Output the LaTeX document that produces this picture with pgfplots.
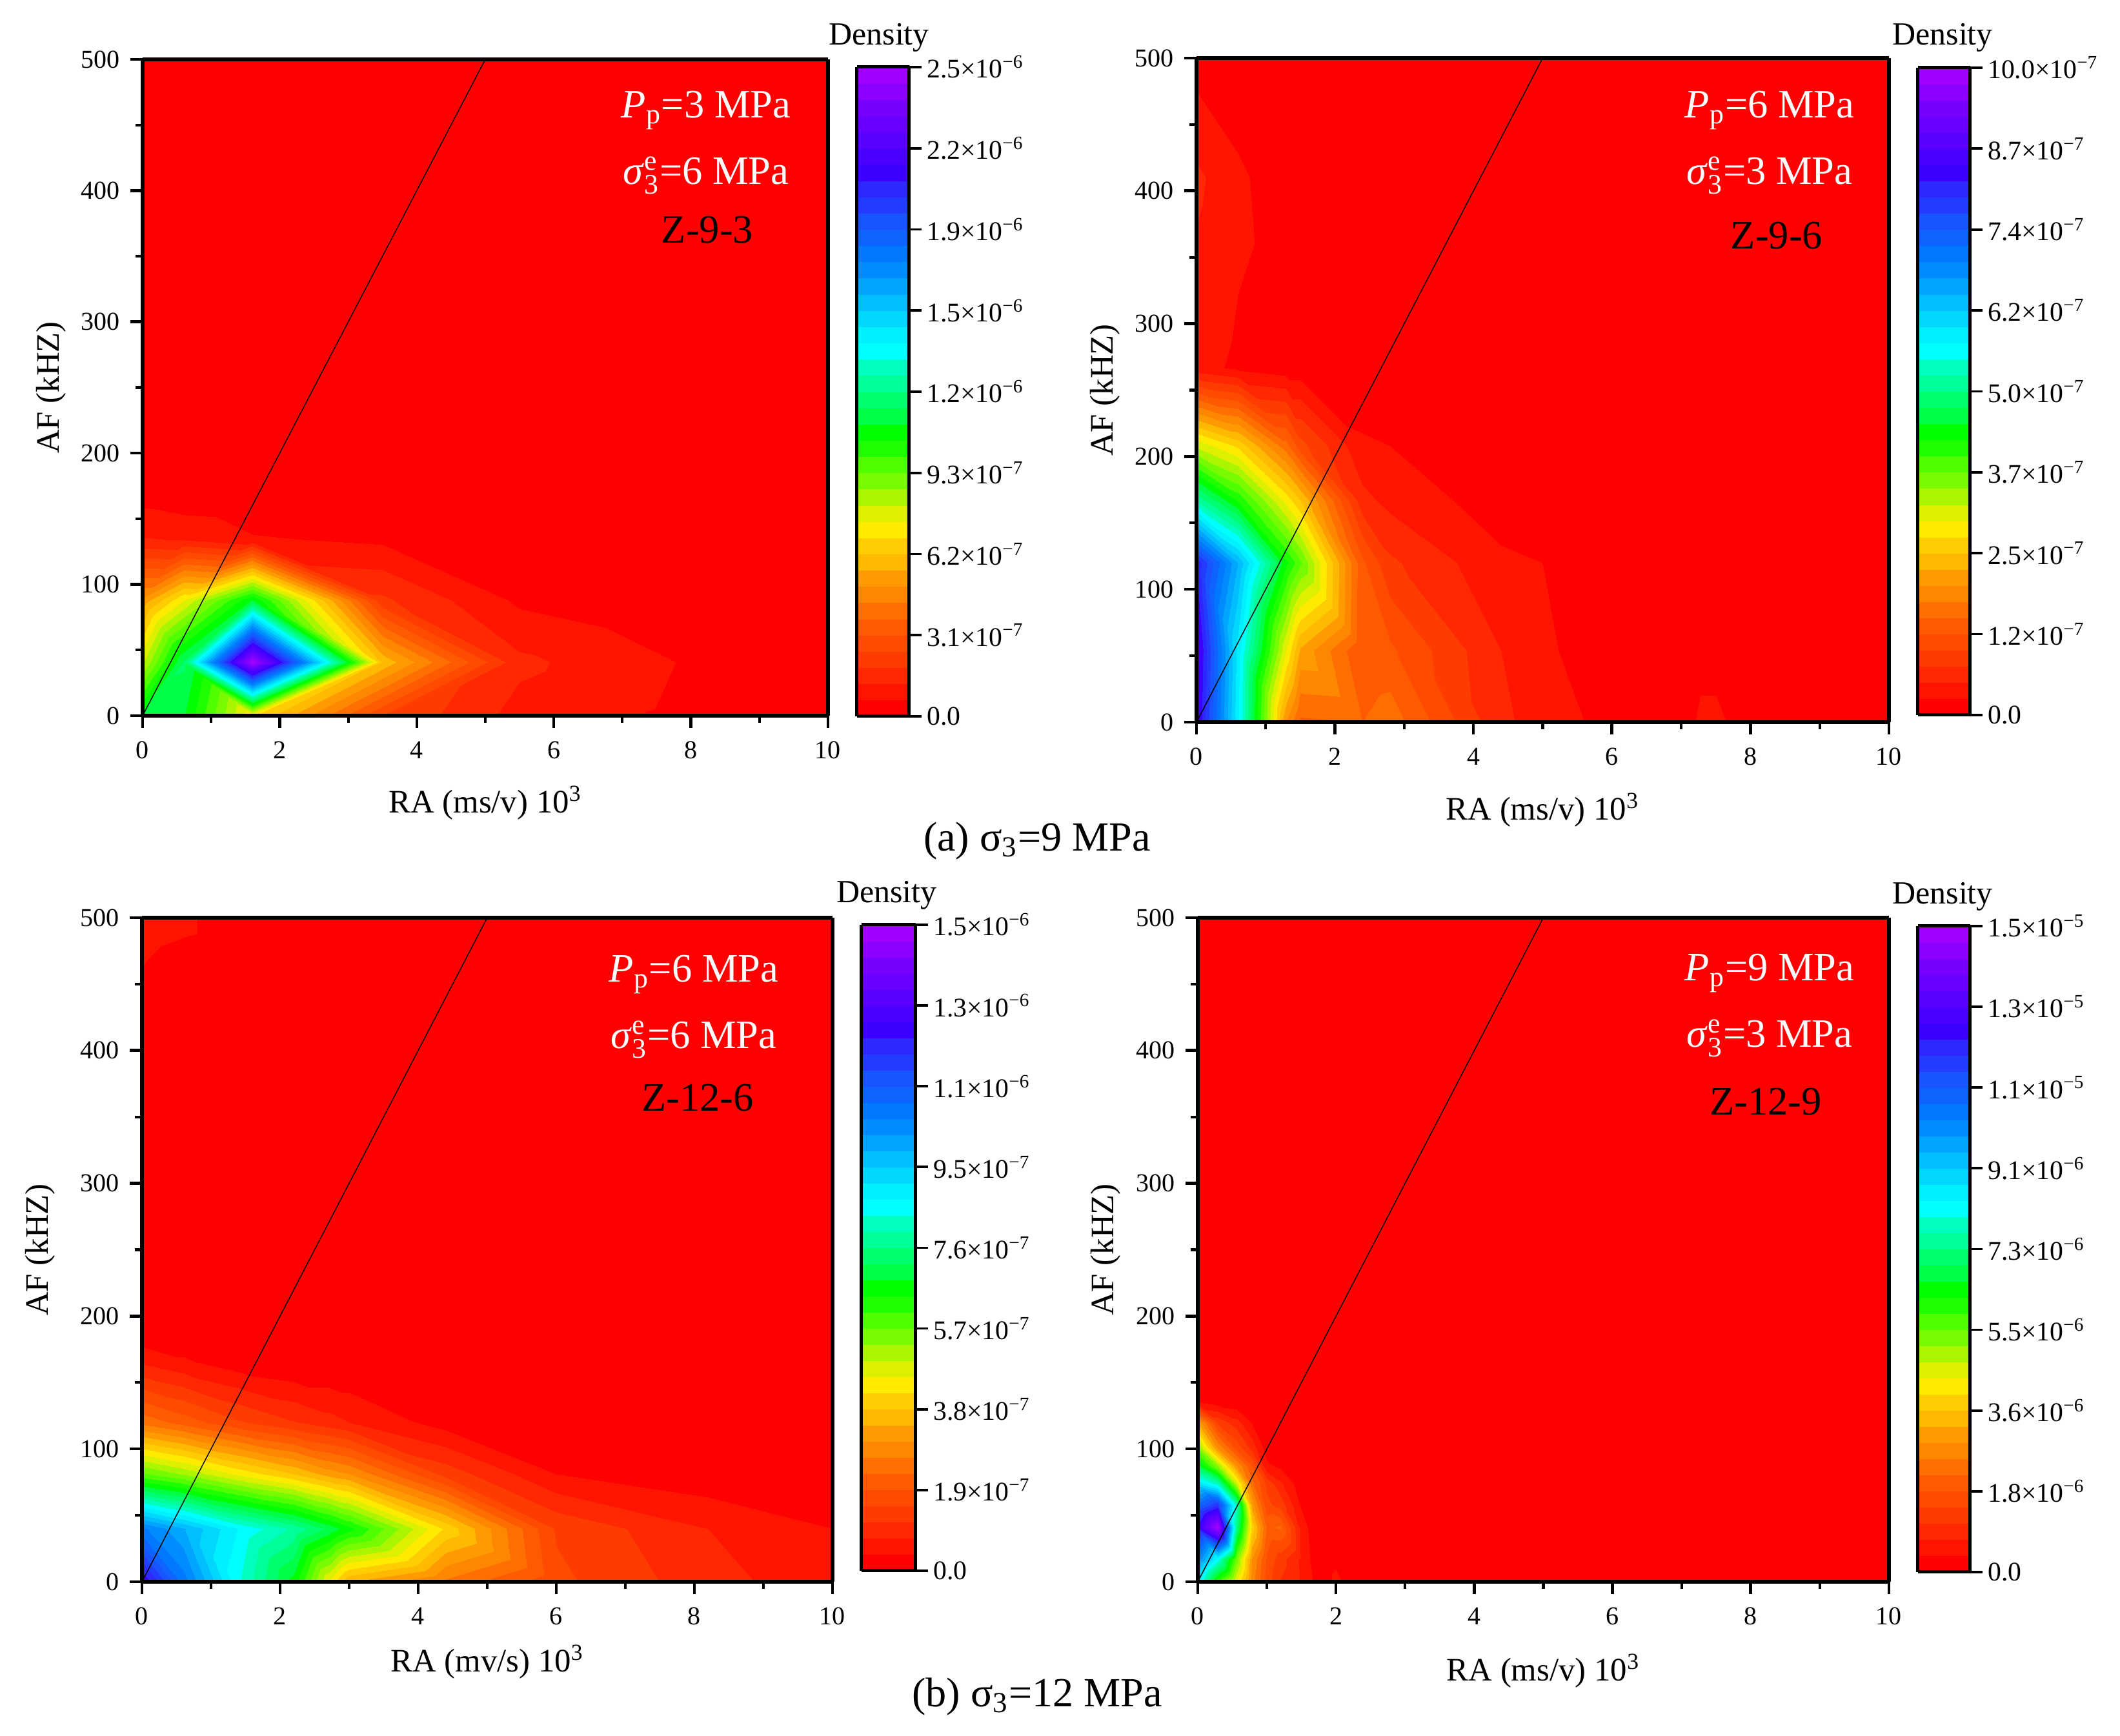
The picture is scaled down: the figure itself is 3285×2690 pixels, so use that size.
\documentclass[border=0pt]{standalone}
\usepackage{pgfplots}
\usepackage{fontspec}
\setmainfont{Liberation Serif}
\pgfplotsset{compat=1.18}
\pgfplotsset{
  colormap={orig}{rgb255=(255,0,0) rgb255=(255,20,0) rgb255=(255,40,0) rgb255=(255,60,0) rgb255=(255,75,0) rgb255=(255,90,0) rgb255=(255,110,0) rgb255=(255,135,0) rgb255=(255,155,0) rgb255=(255,185,0) rgb255=(255,205,0) rgb255=(255,235,0) rgb255=(220,240,0) rgb255=(170,245,0) rgb255=(120,250,0) rgb255=(80,255,0) rgb255=(30,255,0) rgb255=(0,255,0) rgb255=(0,255,70) rgb255=(0,255,110) rgb255=(0,255,150) rgb255=(0,255,190) rgb255=(0,255,255) rgb255=(0,240,255) rgb255=(0,215,255) rgb255=(0,190,255) rgb255=(0,165,255) rgb255=(0,140,255) rgb255=(0,120,255) rgb255=(15,100,255) rgb255=(25,85,255) rgb255=(35,60,255) rgb255=(45,40,255) rgb255=(60,0,255) rgb255=(75,0,255) rgb255=(90,0,255) rgb255=(105,0,255) rgb255=(120,0,255) rgb255=(140,0,255) rgb255=(160,0,255)},
  panel/.style={
    scale only axis, view={0}{90}, axis on top,
    xmin=0,xmax=10,ymin=0,ymax=500,
    xtick={0,2,4,6,8,10}, minor xtick={1,3,5,7,9},
    ytick={0,100,200,300,400,500}, minor ytick={50,150,250,350,450},
    tick align=outside, xtick pos=bottom, ytick pos=left,
    major tick length=4.6pt, minor tick length=2.6pt,
    every tick/.style={black,line width=1.1pt},
    minor tick style={black,line width=1.0pt},
    axis line style={black,line width=1.3pt},
    /pgf/number format/assume math mode=true,
    tick label style={font=\fontsize{9.6}{10}\selectfont},
    label style={font=\fontsize{12.2}{14}\selectfont},
    xticklabel style={yshift=-1.5pt},
    yticklabel style={xshift=-0.5pt},
    ylabel={AF (kHZ)},
    colormap name=orig,
    colorbar,
  },
  cb/.style n args={4}{colorbar style={
      at={(parent axis.south east)},anchor=south west,
      xshift=2.16pt,yshift=#1,width=#2,height=#3,
      ymin=0,ymax=#4,
      ytick pos=right,yticklabel pos=right,
      tick align=outside,xtick=\empty,
      major tick length=4.6pt,
      every tick/.style={black,line width=0.9pt},
      axis line style={black,line width=1.2pt},
      tick label style={font=\fontsize{10}{11}\selectfont,xshift=-1.5pt},
  }},
}
\newcommand{\sig}{\textit{σ}$^{\mathrm{e}}_{\mathrm{3}}$}
\newcommand{\Pp}{\textit{P}$_{\mathrm{p}}$}
\begin{document}
\begin{tikzpicture}[x=0.24pt,y=-0.24pt]
\path[use as bounding box] (0,0) rectangle (3285,2690);
% ---------- A
\begin{axis}[panel,anchor=south west,at={(53.04pt,-266.16pt)},width=254.88pt,height=244.08pt,
  xlabel={RA (ms/v) 10\textsuperscript{3}},
  xlabel style={at={(axis description cs:0.5,-0.133)},anchor=center},
  ylabel style={at={(axis description cs:-0.133,0.5)},anchor=center,rotate=0},
  point meta min=0,point meta max=25,
  cb={-0.24pt}{19.44pt}{241.44pt}{25},
  colorbar style={ytick={0,3.125,6.25,9.375,12.5,15.625,18.75,21.875,25},
    yticklabels={0.0,3.1×10\textsuperscript{−7},6.2×10\textsuperscript{−7},9.3×10\textsuperscript{−7},1.2×10\textsuperscript{−6},1.5×10\textsuperscript{−6},1.9×10\textsuperscript{−6},2.2×10\textsuperscript{−6},2.5×10\textsuperscript{−6}}},
]
\addplot3[contour filled={number=40},colorbar source,mesh/ordering=x varies,mesh/cols=2] table[row sep=\\]{
0 0 0\\ 10 0 0\\ 0 500 0\\ 10 500 0\\
};
\addplot3[contour filled={number=40},patch,patch type=triangle,point meta=z,table/row sep=\\,
patch table={
0 1 8\\ 0 7 8\\ 1 2 8\\ 2 8 9\\ 2 3 10\\ 2 9 10\\ 3 4 11\\ 3 10 11\\ 4 5 11\\ 5 11 12\\ 5 6 12\\ 6 12 13\\
7 8 14\\ 8 14 15\\ 8 9 16\\ 8 15 16\\ 9 10 16\\ 10 16 17\\ 10 11 17\\ 11 17 18\\ 11 12 19\\ 11 18 19\\ 12 13 20\\ 12 19 20\\
14 15 22\\ 14 21 22\\ 15 16 23\\ 15 22 23\\ 16 17 23\\ 17 23 24\\ 17 18 24\\ 18 24 25\\ 18 19 26\\ 18 25 26\\ 19 20 26\\ 20 26 27\\
21 22 28\\ 22 28 29\\ 22 23 30\\ 22 29 30\\ 23 24 30\\ 24 30 31\\ 24 25 32\\ 24 31 32\\ 25 26 32\\ 26 32 33\\ 26 27 34\\ 26 33 34\\
28 29 36\\ 28 35 36\\ 29 30 36\\ 30 36 37\\ 30 31 38\\ 30 37 38\\ 31 32 38\\ 32 38 39\\ 32 33 40\\ 32 39 40\\ 33 34 40\\ 34 40 41\\
}] table{
0 0 11.5\\ 0.6 0 11.3\\ 1.6 0 7\\ 3.5 0 2.5\\ 5.5 0 1\\ 7.8 0 0.5\\ 10 0 0\\
0 41 8\\ 0.6 41 12\\ 1.6 41 25\\ 3.5 41 6.1\\ 5.5 41 1.4\\ 7.8 41 0.62\\ 10 41 0\\
0 88 5.2\\ 0.6 88 7.5\\ 1.6 88 11.3\\ 3.5 88 2\\ 5.5 88 0.5\\ 7.8 88 0\\ 10 88 0\\
0 134 1.3\\ 0.6 134 1.2\\ 1.6 134 0.7\\ 3.5 134 0.5\\ 5.5 134 0\\ 7.8 134 0\\ 10 134 0\\
0 170 0.3\\ 0.6 170 0.1\\ 1.6 170 0\\ 3.5 170 0\\ 5.5 170 0\\ 7.8 170 0\\ 10 170 0\\
0 500 0\\ 0.6 500 0\\ 1.6 500 0\\ 3.5 500 0\\ 5.5 500 0\\ 7.8 500 0\\ 10 500 0\\
};
\addplot3[black,line width=0.35pt,no marks] coordinates {(0,0,0) (5,500,0)};
\end{axis}
% ---------- B
\begin{axis}[panel,anchor=south west,at={(444.96pt,-268.56pt)},width=257.52pt,height=246.96pt,
  xlabel={RA (ms/v) 10\textsuperscript{3}},
  xlabel style={at={(axis description cs:0.5,-0.132)},anchor=center},
  ylabel style={at={(axis description cs:-0.132,0.5)},anchor=center},
  point meta min=0,point meta max=10,
  cb={2.64pt}{19.44pt}{240.72pt}{10},
  colorbar style={ytick={0,1.25,2.5,3.75,5,6.25,7.5,8.75,10},
    yticklabels={0.0,1.2×10\textsuperscript{−7},2.5×10\textsuperscript{−7},3.7×10\textsuperscript{−7},5.0×10\textsuperscript{−7},6.2×10\textsuperscript{−7},7.4×10\textsuperscript{−7},8.7×10\textsuperscript{−7},10.0×10\textsuperscript{−7}}},
]
\addplot3[contour filled={number=40},mesh/ordering=x varies,mesh/cols=13] table[row sep=\\]{
0 0 8.6\\ 0.6 0 5.8\\ 1.3 0 2\\ 1.5 0 1.45\\ 2.4 0 1.5\\ 2.8 0 1.65\\ 4.4 0 0.55\\ 5 0 0.4\\ 5.6 0 0.25\\ 6.9 0 0.1\\ 7.5 0 0.4\\ 7.8 0 0.1\\ 10 0 0\\
0 54 8.7\\ 0.6 54 5.9\\ 1.3 54 3\\ 1.5 54 2.2\\ 2.4 54 1.26\\ 2.8 54 1.3\\ 4.4 54 0.5\\ 5 54 0.33\\ 5.6 54 0.12\\ 6.9 54 0\\ 7.5 54 0\\ 7.8 54 0\\ 10 54 0\\
0 120 8.2\\ 0.6 120 6.5\\ 1.3 120 4.3\\ 1.5 120 3.8\\ 2.4 120 1.3\\ 2.8 120 0.8\\ 4.4 120 0.3\\ 5 120 0.25\\ 5.6 120 0\\ 6.9 120 0\\ 7.5 120 0\\ 7.8 120 0\\ 10 120 0\\
0 167 5.2\\ 0.6 167 4.2\\ 1.3 167 2.9\\ 1.5 167 2.5\\ 2.4 167 0.58\\ 2.8 167 0.42\\ 4.4 167 0.12\\ 5 167 0\\ 5.6 167 0\\ 6.9 167 0\\ 7.5 167 0\\ 7.8 167 0\\ 10 167 0\\
0 208 3.2\\ 0.6 208 2.7\\ 1.3 208 1.6\\ 1.5 208 1.1\\ 2.4 208 0.3\\ 2.8 208 0.25\\ 4.4 208 0\\ 5 208 0\\ 5.6 208 0\\ 6.9 208 0\\ 7.5 208 0\\ 7.8 208 0\\ 10 208 0\\
0 267 0.35\\ 0.6 267 0.2\\ 1.3 267 0.1\\ 1.5 267 0.1\\ 2.4 267 0\\ 2.8 267 0\\ 4.4 267 0\\ 5 267 0\\ 5.6 267 0\\ 6.9 267 0\\ 7.5 267 0\\ 7.8 267 0\\ 10 267 0\\
0 410 0.55\\ 0.6 410 0.33\\ 1.3 410 0\\ 1.5 410 0\\ 2.4 410 0\\ 2.8 410 0\\ 4.4 410 0\\ 5 410 0\\ 5.6 410 0\\ 6.9 410 0\\ 7.5 410 0\\ 7.8 410 0\\ 10 410 0\\
0 475 0.25\\ 0.6 475 0.05\\ 1.3 475 0\\ 1.5 475 0\\ 2.4 475 0\\ 2.8 475 0\\ 4.4 475 0\\ 5 475 0\\ 5.6 475 0\\ 6.9 475 0\\ 7.5 475 0\\ 7.8 475 0\\ 10 475 0\\
0 500 0.1\\ 0.6 500 0\\ 1.3 500 0\\ 1.5 500 0\\ 2.4 500 0\\ 2.8 500 0\\ 4.4 500 0\\ 5 500 0\\ 5.6 500 0\\ 6.9 500 0\\ 7.5 500 0\\ 7.8 500 0\\ 10 500 0\\
};
\addplot3[black,line width=0.35pt,no marks] coordinates {(0,0,0) (5,500,0)};
\end{axis}
% ---------- C
\begin{axis}[panel,anchor=south west,at={(52.8pt,-588.24pt)},width=256.8pt,height=246.96pt,
  xlabel={RA (mv/s) 10\textsuperscript{3}},
  xlabel style={at={(axis description cs:0.5,-0.121)},anchor=center},
  ylabel style={at={(axis description cs:-0.147,0.5)},anchor=center},
  point meta min=0,point meta max=15,
  cb={4.08pt}{20.16pt}{240.24pt}{15},
  colorbar style={ytick={0,1.875,3.75,5.625,7.5,9.375,11.25,13.125,15},
    yticklabels={0.0,1.9×10\textsuperscript{−7},3.8×10\textsuperscript{−7},5.7×10\textsuperscript{−7},7.6×10\textsuperscript{−7},9.5×10\textsuperscript{−7},1.1×10\textsuperscript{−6},1.3×10\textsuperscript{−6},1.5×10\textsuperscript{−6}}},
]
\addplot3[contour filled={number=40},mesh/ordering=x varies,mesh/cols=10] table[row sep=\\]{
0 0 12.8\\ 0.6 0 10.7\\ 1.4 0 8.3\\ 2.2 0 6.6\\ 2.72 0 4.4\\ 3 0 3.4\\ 4.4 0 2.55\\ 6 0 1.6\\ 8.2 0 0.9\\ 10 0 0.5\\
0 40 10.6\\ 0.6 40 9.8\\ 1.4 40 8.6\\ 2.2 40 7.8\\ 2.72 40 7\\ 3 40 6.5\\ 4.4 40 4.05\\ 6 40 1.45\\ 8.2 40 0.75\\ 10 40 0.38\\
0 81 5.7\\ 0.6 81 5.2\\ 1.4 81 4.4\\ 2.2 81 3.75\\ 2.72 81 3.2\\ 3 81 3\\ 4.4 81 1.35\\ 6 81 0.375\\ 8.2 81 0.1\\ 10 81 0\\
0 120 2.5\\ 0.6 120 2.1\\ 1.4 120 1.55\\ 2.2 120 1.15\\ 2.72 120 0.9\\ 3 120 0.75\\ 4.4 120 0.2\\ 6 120 0\\ 8.2 120 0\\ 10 120 0\\
0 165 0.7\\ 0.6 165 0.45\\ 1.4 165 0.15\\ 2.2 165 0\\ 2.72 165 0\\ 3 165 0\\ 4.4 165 0\\ 6 165 0\\ 8.2 165 0\\ 10 165 0\\
0 190 0\\ 0.6 190 0\\ 1.4 190 0\\ 2.2 190 0\\ 2.72 190 0\\ 3 190 0\\ 4.4 190 0\\ 6 190 0\\ 8.2 190 0\\ 10 190 0\\
0 300 0\\ 0.6 300 0\\ 1.4 300 0\\ 2.2 300 0\\ 2.72 300 0\\ 3 300 0\\ 4.4 300 0\\ 6 300 0\\ 8.2 300 0\\ 10 300 0\\
0 452 0.3\\ 0.6 452 0.1\\ 1.4 452 0\\ 2.2 452 0\\ 2.72 452 0\\ 3 452 0\\ 4.4 452 0\\ 6 452 0\\ 8.2 452 0\\ 10 452 0\\
0 500 0.6\\ 0.6 500 0.5\\ 1.4 500 0\\ 2.2 500 0\\ 2.72 500 0\\ 3 500 0\\ 4.4 500 0\\ 6 500 0\\ 8.2 500 0\\ 10 500 0\\
};
\addplot3[black,line width=0.35pt,no marks] coordinates {(0,0,0) (5,500,0)};
\end{axis}
% ---------- D
\begin{axis}[panel,anchor=south west,at={(445.44pt,-588.24pt)},width=257.04pt,height=246.96pt,
  xlabel={RA (ms/v) 10\textsuperscript{3}},
  xlabel style={at={(axis description cs:0.5,-0.134)},anchor=center},
  ylabel style={at={(axis description cs:-0.133,0.5)},anchor=center},
  point meta min=0,point meta max=15,
  cb={3.6pt}{19.44pt}{240.24pt}{15},
  colorbar style={ytick={0,1.875,3.75,5.625,7.5,9.375,11.25,13.125,15},
    yticklabels={0.0,1.8×10\textsuperscript{−6},3.6×10\textsuperscript{−6},5.5×10\textsuperscript{−6},7.3×10\textsuperscript{−6},9.1×10\textsuperscript{−6},1.1×10\textsuperscript{−5},1.3×10\textsuperscript{−5},1.5×10\textsuperscript{−5}}},
]
\addplot3[contour filled={number=40},mesh/ordering=x varies,mesh/cols=12] table[row sep=\\]{
0 0 8.8\\ 0.29 0 6\\ 0.56 0 4.5\\ 0.78 0 2.8\\ 1 0 1.7\\ 1.2 0 1.1\\ 1.5 0 0.7\\ 1.7 0 0.3\\ 1.85 0 0.05\\ 2 0 0.6\\ 2.2 0 0\\ 10 0 0\\
0 17 10.5\\ 0.29 17 8.4\\ 0.56 17 5.5\\ 0.78 17 3\\ 1 17 1.8\\ 1.2 17 1.3\\ 1.5 17 0.65\\ 1.7 17 0.2\\ 1.85 17 0\\ 2 17 0.2\\ 2.2 17 0\\ 10 17 0\\
0 41 12.5\\ 0.29 41 15\\ 0.56 41 7.5\\ 0.78 41 4\\ 1 41 2.2\\ 1.2 41 2.3\\ 1.5 41 0.6\\ 1.7 41 0.1\\ 1.85 41 0\\ 2 41 0\\ 2.2 41 0\\ 10 41 0\\
0 58 11\\ 0.29 58 12\\ 0.56 58 8\\ 0.78 58 3.2\\ 1 58 1.6\\ 1.2 58 1.35\\ 1.5 58 0.3\\ 1.7 58 0\\ 1.85 58 0\\ 2 58 0\\ 2.2 58 0\\ 10 58 0\\
0 74 9\\ 0.29 74 8\\ 0.56 74 4.8\\ 0.78 74 2.4\\ 1 74 1.4\\ 1.2 74 0.85\\ 1.5 74 0.1\\ 1.7 74 0\\ 1.85 74 0\\ 2 74 0\\ 2.2 74 0\\ 10 74 0\\
0 87 7\\ 0.29 87 5.3\\ 0.56 87 3\\ 0.78 87 1.9\\ 1 87 0.45\\ 1.2 87 0.3\\ 1.5 87 0\\ 1.7 87 0\\ 1.85 87 0\\ 2 87 0\\ 2.2 87 0\\ 10 87 0\\
0 100 5.5\\ 0.29 100 3\\ 0.56 100 1.8\\ 0.78 100 1\\ 1 100 0.2\\ 1.2 100 0\\ 1.5 100 0\\ 1.7 100 0\\ 1.85 100 0\\ 2 100 0\\ 2.2 100 0\\ 10 100 0\\
0 120 3.3\\ 0.29 120 1.4\\ 0.56 120 0.9\\ 0.78 120 0.35\\ 1 120 0\\ 1.2 120 0\\ 1.5 120 0\\ 1.7 120 0\\ 1.85 120 0\\ 2 120 0\\ 2.2 120 0\\ 10 120 0\\
0 135 0.4\\ 0.29 135 0.2\\ 0.56 135 0.1\\ 0.78 135 0\\ 1 135 0\\ 1.2 135 0\\ 1.5 135 0\\ 1.7 135 0\\ 1.85 135 0\\ 2 135 0\\ 2.2 135 0\\ 10 135 0\\
0 145 0\\ 0.29 145 0\\ 0.56 145 0\\ 0.78 145 0\\ 1 145 0\\ 1.2 145 0\\ 1.5 145 0\\ 1.7 145 0\\ 1.85 145 0\\ 2 145 0\\ 2.2 145 0\\ 10 145 0\\
0 500 0\\ 0.29 500 0\\ 0.56 500 0\\ 0.78 500 0\\ 1 500 0\\ 1.2 500 0\\ 1.5 500 0\\ 1.7 500 0\\ 1.85 500 0\\ 2 500 0\\ 2.2 500 0\\ 10 500 0\\
};
\addplot3[black,line width=0.35pt,no marks] coordinates {(0,0,0) (5,500,0)};
\end{axis}
% ---------- texts
\tikzset{big/.style={font=\fontsize{15}{17}\selectfont,anchor=center},wbig/.style={big,white},dens/.style={font=\fontsize{12}{14}\selectfont},capt/.style={font=\fontsize{15.4}{17}\selectfont}}
\node[wbig] at (1094,171) {\Pp=3 MPa};
\node[wbig] at (1094,272) {\sig=6 MPa};
\node[big] at (1096,356) {Z-9-3};
\node[wbig] at (2742,171) {\Pp=6 MPa};
\node[wbig] at (2742,272) {\sig=3 MPa};
\node[big] at (2753,365) {Z-9-6};
\node[wbig] at (1075,1510) {\Pp=6 MPa};
\node[wbig] at (1075,1611) {\sig=6 MPa};
\node[big] at (1081,1701) {Z-12-6};
\node[wbig] at (2742,1508) {\Pp=9 MPa};
\node[wbig] at (2742,1609) {\sig=3 MPa};
\node[big] at (2736,1707) {Z-12-9};
\node[dens] at (1362,58) {Density};
\node[dens] at (3010,58) {Density};
\node[dens] at (1374,1387) {Density};
\node[dens] at (3010,1389) {Density};
\node[capt] at (1607,1303) {(a) σ$_{\mathrm{3}}$=9 MPa};
\node[capt] at (1607,2629) {(b) σ$_{\mathrm{3}}$=12 MPa};
\end{tikzpicture}
\end{document}
